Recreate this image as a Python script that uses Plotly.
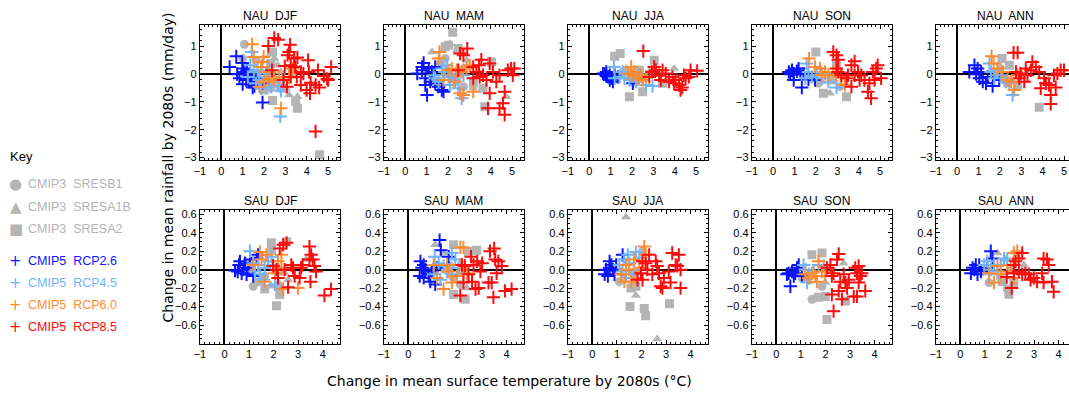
import plotly.graph_objects as go

# ---------------- data (x = change in temperature, y = change in rainfall) ----------------
# NAU DJF
NAU_DJF_B1 = [(1.08,1.07),(1.0,0.56),(1.16,-0.04),(1.39,-0.39),(1.63,0.5),(1.86,-0.45),(2.09,-0.21),(2.32,-0.51),(1.7,-0.1)]
NAU_DJF_A1B = [(2.29,0.74),(2.48,0.56),(2.63,0.32),(3.02,-0.51),(3.17,-0.75),(3.56,-0.81),(2.79,0.08),(2.17,-0.33)]
NAU_DJF_A2 = [(2.4,0.8),(2.4,-0.95),(3.56,-1.23),(2.32,0.38),(2.86,-0.51),(3.48,-0.99),(4.6,-2.9),(3.33,0.08),(2.01,-0.57)]
NAU_DJF_R26 = [(0.39,0.26),(0.7,0.64),(0.74,0.0),(0.98,0.4),(1.04,0.2),(1.08,0.08),(1.0,-0.36),(1.16,-0.21),(1.39,-0.12),(1.47,-0.48),(1.32,-0.07),(1.64,-0.15),(1.93,-1.02),(1.93,-0.33),(1.55,-0.43),(0.85,-0.15),(1.2,0.14)]
NAU_DJF_R45 = [(1.42,0.8),(1.36,0.32),(1.52,0.08),(1.7,0.14),(1.78,-0.21),(2.01,-0.1),(2.17,0.26),(2.48,-0.27),(2.79,-0.6),(2.76,-1.52),(2.32,-0.45),(2.63,-0.39),(2.09,0.02),(1.86,-0.51),(1.63,-0.33),(2.48,-0.1),(2.86,-0.21),(1.24,-0.1)]
NAU_DJF_R60 = [(1.44,1.07),(1.52,0.62),(1.93,0.44),(1.86,0.26),(1.98,0.62),(2.17,-0.18),(2.4,-0.15),(2.71,-0.12),(2.94,-0.1),(3.17,-0.12),(2.79,-1.23),(2.24,0.08),(2.48,-0.21),(2.01,-0.27),(1.78,-0.45),(3.34,0.2)]
NAU_DJF_R85 = [(2.2,1.01),(2.48,1.3),(2.66,1.24),(3.22,1.06),(3.17,0.8),(3.1,0.68),(3.41,0.56),(3.56,0.6),(2.97,0.29),(3.25,0.32),(3.45,0.26),(2.37,0.14),(2.91,-0.21),(3.07,-0.45),(3.25,-0.1),(3.72,-0.39),(3.72,0.08),(4.06,0.5),(4.1,0.08),(4.18,-0.31),(3.99,-0.57),(4.15,-0.69),(4.41,-0.39),(4.52,0.14),(4.58,-0.48),(4.8,-0.07),(4.95,-0.17),(5.14,0.26),(5.0,-0.21),(4.41,-2.06),(3.53,-0.1),(3.84,0.02)]

# NAU MAM
NAU_MAM_B1 = [(1.64,0.38),(1.87,0.56),(2.18,-0.1),(2.41,-0.21),(1.4,-0.27),(2.72,-0.45)]
NAU_MAM_A1B = [(1.25,0.8),(2.1,1.1),(2.87,0.5),(2.72,0.26),(4.72,-0.81),(3.18,-0.51),(2.41,0.86)]
NAU_MAM_A2 = [(2.22,1.51),(2.02,1.04),(1.87,0.98),(2.48,0.92),(4.03,0.44),(3.72,-1.17),(3.64,-0.51),(3.18,-0.33)]
NAU_MAM_R26 = [(0.56,0.02),(0.86,0.4),(0.79,0.14),(0.94,-0.15),(1.02,-0.75),(1.1,0.2),(1.25,0.08),(1.4,-0.33),(1.17,-0.27),(1.56,-0.45),(1.71,-0.57),(1.79,-0.63),(0.94,-0.39),(1.4,0.26),(0.79,0.26)]
NAU_MAM_R45 = [(1.71,0.2),(1.87,0.08),(1.4,-0.15),(1.56,-0.27),(2.02,-0.1),(2.25,-0.21),(2.48,-0.51),(2.64,-0.87),(2.41,0.02),(2.72,-0.04),(1.79,-0.04),(2.1,-0.39),(1.94,0.32),(1.33,-0.04)]
NAU_MAM_R60 = [(1.6,0.8),(1.56,0.56),(1.79,-0.21),(2.02,0.14),(2.18,0.2),(2.33,-0.27),(2.56,-0.69),(2.72,-0.75),(3.18,-0.63),(2.87,0.2),(3.02,0.32),(2.64,0.08),(2.41,0.14)]
NAU_MAM_R85 = [(2.56,0.74),(2.9,0.92),(2.72,0.68),(3.56,0.52),(3.45,0.32),(3.95,0.38),(3.18,0.26),(3.33,0.08),(3.18,-0.15),(3.64,-0.04),(3.8,-0.21),(3.95,-0.69),(3.87,-1.23),(4.41,-1.23),(4.57,-1.05),(4.65,-1.46),(4.65,-0.63),(4.1,0.08),(4.41,-0.04),(4.8,0.14),(4.95,0.2),(5.1,0.2),(5.03,-0.04),(4.26,-0.27),(2.48,0.14),(3.48,-0.1)]

# NAU JJA
NAU_JJA_B1 = [(1.57,0.08),(2.04,-0.1),(1.11,-0.15)]
NAU_JJA_A1B = [(3.97,0.2),(1.73,0.2),(2.81,0.08)]
NAU_JJA_A2 = [(1.19,0.64),(1.45,0.74),(1.88,-0.81),(2.5,-0.63),(3.04,0.5),(2.11,-0.27),(2.35,0.14),(3.43,-0.33)]
NAU_JJA_R26 = [(0.73,0.0),(0.8,0.08),(0.88,-0.1),(0.96,-0.04),(1.03,-0.15),(1.11,-0.27),(1.19,-0.04),(1.34,-0.1),(2.04,-0.33),(0.8,-0.07),(0.65,0.02),(0.96,-0.21)]
NAU_JJA_R45 = [(1.16,0.26),(1.42,-0.1),(1.65,-0.15),(1.88,-0.21),(2.19,-0.27),(2.5,-0.15),(2.96,-0.43),(1.57,0.08),(2.65,-0.39),(2.35,-0.04),(1.19,-0.15)]
NAU_JJA_R60 = [(1.96,0.26),(1.81,0.02),(2.04,-0.04),(2.27,-0.15),(2.5,-0.21),(2.42,-0.04),(2.65,-0.1),(2.11,0.08)]
NAU_JJA_R85 = [(2.53,0.83),(3.04,0.26),(3.12,0.14),(2.81,-0.1),(3.27,-0.04),(3.35,-0.21),(3.58,0.02),(3.73,-0.27),(3.89,-0.1),(4.04,-0.21),(4.2,-0.39),(4.27,-0.57),(4.35,-0.48),(4.43,-0.04),(4.51,-0.15),(4.74,0.14),(5.05,0.12),(3.43,0.14),(2.93,0.08),(3.97,-0.33),(4.66,-0.1)]

# NAU SON
NAU_SON_B1 = [(1.81,-0.15),(2.11,-0.33),(3.12,-0.45)]
NAU_SON_A1B = [(2.65,-0.69),(2.27,-0.27)]
NAU_SON_A2 = [(2.0,0.8),(2.35,-0.69),(3.43,-0.81),(2.96,0.32),(2.73,-0.21)]
NAU_SON_R26 = [(0.73,0.08),(0.88,0.14),(0.96,0.02),(1.11,0.11),(1.19,0.2),(1.27,0.0),(0.96,-0.21),(1.34,-0.48),(1.65,-0.19),(1.96,-0.21),(1.42,0.02),(0.8,0.0)]
NAU_SON_R45 = [(1.57,0.38),(1.65,0.08),(1.81,-0.1),(2.04,-0.04),(2.27,-0.15),(2.58,-0.27),(2.96,-0.48),(1.5,-0.15),(2.42,0.02)]
NAU_SON_R60 = [(1.68,0.56),(1.96,0.26),(2.19,0.2),(2.42,0.08),(2.58,-0.04),(2.81,0.08),(2.96,-0.04),(3.19,-0.1),(3.35,-0.39),(2.27,-0.04)]
NAU_SON_R85 = [(2.81,0.8),(2.96,0.68),(3.04,0.52),(2.96,0.2),(3.04,0.08),(3.19,-0.04),(3.43,-0.15),(3.5,-0.04),(3.66,0.32),(3.81,0.46),(3.66,-0.45),(3.97,0.08),(4.04,-0.21),(4.12,-0.04),(4.27,-0.21),(4.43,-0.63),(4.58,-0.87),(4.66,0.08),(4.82,0.2),(4.89,0.32),(5.05,-0.15),(4.74,-0.21),(4.5,-0.33),(3.81,-0.04)]

# NAU ANN
NAU_ANN_B1 = [(1.82,-0.1),(2.2,-0.21)]
NAU_ANN_A1B = [(2.36,-0.39),(2.05,0.26)]
NAU_ANN_A2 = [(3.84,-1.19),(2.1,0.56),(2.44,0.32),(2.83,-0.39)]
NAU_ANN_R26 = [(0.57,0.08),(0.81,0.32),(0.96,0.2),(1.12,0.08),(1.04,-0.15),(1.2,-0.27),(1.35,-0.33),(1.66,-0.43),(1.97,-0.21),(1.43,-0.1),(0.89,0.0)]
NAU_ANN_R45 = [(1.51,0.38),(1.58,0.08),(1.74,-0.15),(2.05,-0.04),(2.28,-0.27),(2.59,-0.75),(2.44,-0.33),(1.89,0.14)]
NAU_ANN_R60 = [(1.61,0.64),(1.71,0.38),(1.89,0.2),(2.13,0.08),(2.36,-0.21),(2.52,-0.27),(2.67,-0.57),(2.83,-0.04)]
NAU_ANN_R85 = [(2.64,0.77),(2.83,0.77),(2.75,0.08),(2.98,0.02),(3.14,-0.27),(3.21,0.2),(3.52,0.44),(3.45,0.14),(3.68,0.26),(3.84,0.08),(3.91,-0.51),(4.07,-0.15),(4.15,-0.33),(4.3,-0.39),(4.38,-0.75),(4.38,-1.07),(4.61,-0.48),(4.53,-0.04),(4.69,0.02),(4.84,0.14),(5.0,0.14),(2.9,-0.15),(3.29,-0.04)]

# SAU DJF
SAU_DJF_B1 = [(1.17,-0.18),(1.37,-0.13),(1.64,-0.07),(2.18,-0.16),(0.97,0.0)]
SAU_DJF_A1B = [(1.91,-0.18),(2.25,-0.2),(2.59,-0.11),(2.45,-0.04),(3.33,0.11)]
SAU_DJF_A2 = [(1.91,0.29),(2.12,-0.39),(1.64,-0.21),(2.25,-0.27),(2.53,0.3),(1.91,0.21)]
SAU_DJF_R26 = [(0.43,-0.01),(0.59,0.05),(0.63,0.09),(0.77,0.0),(0.84,0.07),(0.7,-0.04),(0.9,-0.05),(1.04,0.11),(1.17,-0.07),(1.31,0.13),(1.37,0.16),(0.97,0.02),(0.54,-0.02)]
SAU_DJF_R45 = [(1.04,0.2),(1.17,0.07),(1.24,-0.02),(1.44,-0.05),(1.64,0.02),(1.91,0.14),(1.98,0.05),(2.05,-0.16),(1.58,-0.11),(1.78,0.09),(1.37,0.05)]
SAU_DJF_R60 = [(1.44,0.19),(1.17,0.05),(1.51,0.11),(1.64,-0.13),(1.71,0.16),(2.18,0.09),(2.32,0.16),(2.39,-0.21),(2.99,-0.2),(2.05,-0.04),(2.32,0.02)]
SAU_DJF_R85 = [(2.39,0.27),(2.53,0.29),(2.25,0.23),(1.98,0.04),(2.18,-0.09),(2.59,-0.19),(2.12,0.0),(2.72,0.05),(2.86,-0.07),(3.06,-0.09),(3.12,0.02),(3.18,0.05),(3.46,0.25),(3.53,0.16),(3.6,0.11),(3.46,0.11),(3.66,0.04),(3.5,-0.13),(3.73,-0.02),(4.07,-0.28),(4.34,-0.21),(2.45,0.0),(2.79,0.02)]

# SAU MAM
SAU_MAM_B1 = [(1.5,0.0),(1.7,0.04),(1.84,-0.09),(2.11,-0.16)]
SAU_MAM_A1B = [(1.09,0.27),(1.43,0.18),(2.24,-0.04),(2.38,-0.2)]
SAU_MAM_A2 = [(1.84,0.27),(2.78,0.21),(1.84,-0.27),(2.31,-0.32),(2.45,0.2)]
SAU_MAM_R26 = [(0.49,0.09),(0.55,0.02),(0.62,0.05),(0.46,-0.07),(0.62,-0.09),(0.82,-0.05),(0.89,-0.13),(1.09,-0.16),(1.27,0.32),(1.32,0.21),(1.16,0.02),(1.64,0.14),(0.69,0.0),(0.96,-0.02)]
SAU_MAM_R45 = [(1.07,0.14),(1.23,0.07),(1.43,0.04),(1.57,-0.02),(1.77,-0.05),(1.91,0.11),(2.04,0.02),(2.24,-0.04),(1.77,0.18),(1.03,-0.05),(1.3,-0.11)]
SAU_MAM_R60 = [(1.03,0.05),(1.16,-0.09),(1.43,-0.21),(1.57,0.05),(1.64,-0.02),(1.77,-0.14),(2.11,0.24),(2.24,0.24),(2.38,-0.04),(1.97,-0.07),(2.11,0.05)]
SAU_MAM_R85 = [(2.55,0.14),(2.18,0.05),(2.24,-0.14),(2.11,-0.28),(2.45,-0.05),(2.59,-0.13),(2.73,-0.21),(2.86,-0.2),(2.8,0.09),(3.0,0.07),(2.93,-0.02),(3.26,-0.14),(3.32,0.2),(3.49,0.23),(3.53,0.11),(3.59,-0.04),(3.46,-0.3),(3.66,0.09),(3.8,0.04),(3.93,-0.23),(4.2,-0.21),(3.39,-0.14),(2.65,0.05),(2.3,0.04)]

# SAU JJA
SAU_JJA_B1 = [(1.1,-0.13),(1.7,-0.04),(2.04,0.2)]
SAU_JJA_A1B = [(1.37,0.57),(1.77,-0.28),(2.64,-0.75),(1.91,-0.04)]
SAU_JJA_A2 = [(1.53,-0.4),(2.11,-0.42),(2.17,-0.5),(3.14,-0.37),(1.57,-0.2),(1.77,-0.18)]
SAU_JJA_R26 = [(0.5,-0.05),(0.63,-0.07),(0.7,0.09),(0.77,0.05),(0.83,0.0),(0.9,-0.05),(1.23,0.16),(0.56,0.0),(0.97,0.05),(0.7,0.02)]
SAU_JJA_R45 = [(1.1,0.05),(1.3,0.11),(1.44,0.16),(1.5,0.07),(1.7,0.0),(1.77,0.19),(1.91,0.13),(1.37,-0.05),(1.57,-0.09),(1.23,-0.02)]
SAU_JJA_R60 = [(1.17,-0.05),(1.37,0.05),(1.5,0.0),(1.57,-0.13),(1.7,0.11),(1.91,0.02),(2.11,0.25),(2.17,0.16),(1.77,-0.09),(1.3,-0.13)]
SAU_JJA_R85 = [(1.84,-0.11),(1.98,-0.04),(2.04,0.09),(2.17,0.07),(2.24,0.0),(2.31,0.16),(2.44,-0.05),(2.58,0.09),(2.64,0.04),(2.71,-0.04),(2.78,-0.18),(2.91,-0.09),(3.11,-0.02),(3.25,0.18),(3.52,0.16),(3.39,0.05),(3.46,0.04),(3.18,-0.14),(3.59,0.0),(3.59,-0.2),(2.85,-0.2),(2.04,-0.11)]

# SAU SON
SAU_SON_B1 = [(1.45,-0.32),(1.04,-0.09),(1.86,-0.18)]
SAU_SON_A1B = [(2.74,0.07),(2.26,-0.02),(1.99,-0.14)]
SAU_SON_A2 = [(1.45,0.16),(2.06,-0.54),(2.81,-0.34),(1.72,-0.3),(1.99,-0.29),(1.86,0.18)]
SAU_SON_R26 = [(0.43,-0.05),(0.57,-0.18),(0.64,-0.02),(0.71,-0.07),(0.77,-0.04),(0.91,0.05),(1.04,-0.07),(0.84,0.02),(0.5,-0.04)]
SAU_SON_R45 = [(1.11,0.05),(1.18,0.0),(1.25,-0.14),(1.38,-0.09),(1.52,-0.02),(1.72,0.05),(1.93,0.04),(1.32,-0.05)]
SAU_SON_R60 = [(1.18,-0.05),(1.32,-0.09),(1.45,-0.04),(1.59,-0.07),(1.72,0.09),(1.86,-0.02),(1.99,-0.07),(1.65,-0.13)]
SAU_SON_R85 = [(2.06,0.02),(2.2,0.05),(2.26,-0.07),(2.33,-0.04),(2.26,-0.27),(2.47,0.11),(2.54,0.17),(2.6,-0.13),(2.54,-0.23),(2.74,-0.05),(2.81,-0.14),(2.88,-0.2),(2.67,-0.32),(2.33,-0.45),(3.21,0.02),(3.28,-0.04),(3.35,0.04),(3.42,-0.07),(3.35,-0.14),(3.48,-0.04),(3.15,-0.29),(3.28,-0.29),(3.62,-0.23),(2.95,-0.11)]

# SAU ANN
SAU_ANN_B1 = [(1.17,-0.14),(1.64,-0.09),(1.91,-0.21)]
SAU_ANN_A1B = [(1.51,0.18),(1.84,0.11),(2.59,0.05),(1.98,-0.29)]
SAU_ANN_A2 = [(1.71,-0.13),(1.98,-0.25),(2.18,-0.14),(2.05,0.0)]
SAU_ANN_R26 = [(0.43,-0.04),(0.57,0.0),(0.63,0.05),(0.77,0.05),(0.7,-0.05),(0.84,-0.02),(1.24,0.2),(1.31,0.12),(1.1,0.02),(0.5,0.02)]
SAU_ANN_R45 = [(0.97,0.05),(1.1,0.09),(1.24,0.0),(1.37,0.05),(1.64,0.05),(1.78,0.12),(1.91,0.11),(1.51,-0.02),(1.17,-0.05)]
SAU_ANN_R60 = [(1.17,-0.04),(1.37,-0.14),(1.51,0.04),(1.64,-0.05),(1.91,-0.02),(2.18,0.18),(2.32,0.2),(2.18,-0.09),(2.05,0.05)]
SAU_ANN_R85 = [(1.89,-0.08),(2.09,-0.2),(2.18,0.05),(2.25,0.09),(2.38,0.12),(2.52,0.18),(2.38,-0.02),(2.52,-0.05),(2.65,-0.04),(2.79,-0.05),(2.86,-0.11),(2.99,-0.09),(3.12,-0.13),(3.33,-0.04),(3.39,0.12),(3.53,0.11),(3.6,0.05),(3.39,-0.14),(3.73,-0.13),(3.8,-0.24),(2.18,-0.04)]

REGIONS = ["NAU", "SAU"]
SEASONS = ["DJF", "MAM", "JJA", "SON", "ANN"]
SERIES = ["B1", "A1B", "A2", "R26", "R45", "R60", "R85"]
LEGEND_LABELS = ["CMIP3  SRESB1", "CMIP3  SRESA1B", "CMIP3  SRESA2",
                 "CMIP5  RCP2.6", "CMIP5  RCP4.5", "CMIP5  RCP6.0", "CMIP5  RCP8.5"]
NAU_XTICKS = [-1, 0, 1, 2, 3, 4, 5]
NAU_YTICKS = [-3, -2, -1, 0, 1]
SAU_XTICKS = [-1, 0, 1, 2, 3, 4]
SAU_YTICKS = [-0.6, -0.4, -0.2, 0.0, 0.2, 0.4, 0.6]
SAU_YTICKTEXT = ["\u22120.6", "\u22120.4", "\u22120.2", "0.0", "0.2", "0.4", "0.6"]

DATA = {}
for r in REGIONS:
    for s in SEASONS:
        for k in SERIES:
            DATA[(r, s, k)] = globals()[f"{r}_{s}_{k}"]

# ---------------- styles ----------------
GREY = "#b4b4b4"
COLORS = {"B1": GREY, "A1B": GREY, "A2": GREY,
          "R26": "#0a14ff", "R45": "#6eb4ff", "R60": "#ff8c32", "R85": "#ff0a0a"}
SYMBOLS = {"B1": "circle", "A1B": "triangle-up", "A2": "square"}

W, H = 1069, 400
FONT = "Liberation Sans, Arial, sans-serif"
TFONT = "DejaVu Sans, sans-serif"

fig = go.Figure()

col_left = [195, 380, 565, 750, 935]
panel_w = 141
row_top = [24.7, 210.7]
row_bot = [161.0, 346.0]
unit_x = [21.5, 24.7]
yranges = [[-3.1, 1.75], [-0.8, 0.65]]

layout_axes = {}
annotations = []
idx = 0
for ri, r in enumerate(REGIONS):
    for ci, s in enumerate(SEASONS):
        idx += 1
        xa = "x" if idx == 1 else f"x{idx}"
        ya = "y" if idx == 1 else f"y{idx}"
        left = col_left[ci]
        right = min(left + panel_w, W)
        xr1 = -1 + (right - left) / unit_x[ri]
        for k in SERIES:
            pts = DATA[(r, s, k)]
            xs = [p[0] for p in pts]
            ys = [p[1] for p in pts]
            if k in SYMBOLS:
                mk = dict(symbol=SYMBOLS[k], size=9, color=GREY, line=dict(width=0))
            else:
                mk = dict(symbol="cross-thin", size=9.5, color=COLORS[k],
                          line=dict(width=2, color=COLORS[k]))
            fig.add_trace(go.Scatter(x=xs, y=ys, mode="markers", marker=mk,
                                     xaxis=xa, yaxis=ya, showlegend=False,
                                     hoverinfo="skip", cliponaxis=True))
        is_last = (ci == 4)
        common = dict(showline=True, linecolor="black", linewidth=1,
                      ticks="inside", ticklen=4, tickcolor="black", tickwidth=1,
                      showgrid=False, zeroline=True, zerolinecolor="black",
                      zerolinewidth=1.5,
                      tickfont=dict(family=FONT, size=11, color="black"))
        xkey = "xaxis" if idx == 1 else f"xaxis{idx}"
        ykey = "yaxis" if idx == 1 else f"yaxis{idx}"
        xt = NAU_XTICKS if ri == 0 else SAU_XTICKS
        layout_axes[xkey] = dict(common, domain=[left / W, right / W],
                                 range=[-1, xr1], anchor=ya, mirror="ticks",
                                 tickvals=xt,
                                 ticktext=[("\u2212" + str(-v)) if v < 0 else str(v) for v in xt],
                                 minor=dict(ticks="inside", ticklen=2, dtick=0.2,
                                            tick0=0, tickcolor="black", showgrid=False))
        if ri == 0:
            yt = NAU_YTICKS
            ytt = [("\u2212" + str(-v)) if v < 0 else str(v) for v in yt]
            mdt = 0.2
        else:
            yt = SAU_YTICKS
            ytt = SAU_YTICKTEXT
            mdt = 0.05
        layout_axes[ykey] = dict(common,
                                 domain=[1 - row_bot[ri] / H, 1 - row_top[ri] / H],
                                 range=yranges[ri], anchor=xa,
                                 mirror=(False if is_last else "ticks"),
                                 tickvals=yt, ticktext=ytt,
                                 minor=dict(ticks="inside", ticklen=2, dtick=mdt,
                                            tick0=0, tickcolor="black", showgrid=False))
        # panel title
        annotations.append(dict(text=f"{r}  {s}", xref="paper", yref="paper",
                                x=(left + panel_w / 2) / W,
                                y=1 - (15 if ri == 0 else 202) / H,
                                showarrow=False, xanchor="center", yanchor="middle",
                                font=dict(family=FONT, size=12, color="black")))

# axis titles
annotations.append(dict(text="Change in mean rainfall by 2080s (mm/day)",
                        xref="paper", yref="paper", x=163 / W, y=1 - 168 / H,
                        textangle=-90, showarrow=False, xanchor="center", yanchor="middle",
                        font=dict(family=TFONT, size=14, color="black")))
annotations.append(dict(text="Change in mean surface temperature by 2080s (\u00b0C)",
                        xref="paper", yref="paper", x=506 / W, y=1 - 384 / H,
                        showarrow=False, xanchor="center", yanchor="middle",
                        font=dict(family=TFONT, size=14, color="black")))

# key (left side)
annotations.append(dict(text="Key", xref="paper", yref="paper", x=2 / W, y=1 - 157 / H,
                        showarrow=False, xanchor="left", yanchor="middle",
                        font=dict(family=FONT, size=13, color="black")))
key_y = [185, 208, 230, 263, 285, 307, 329]
key_sym = ["\u25cf", "\u25b2", "\u25a0", "+", "+", "+", "+"]
for i, k in enumerate(SERIES):
    col = COLORS[k]
    annotations.append(dict(text=key_sym[i], xref="paper", yref="paper",
                            x=10 / W, y=1 - key_y[i] / H, showarrow=False,
                            xanchor="center", yanchor="middle",
                            font=dict(family="DejaVu Sans", size=15, color=col)))
    annotations.append(dict(text=LEGEND_LABELS[i], xref="paper", yref="paper",
                            x=20 / W, y=1 - key_y[i] / H, showarrow=False,
                            xanchor="left", yanchor="middle",
                            font=dict(family=FONT, size=12.5, color=col)))

fig.update_layout(width=W, height=H, margin=dict(l=0, r=0, t=0, b=0),
                  paper_bgcolor="white", plot_bgcolor="white",
                  showlegend=False, annotations=annotations, **layout_axes)

fig.write_html("out.html")
